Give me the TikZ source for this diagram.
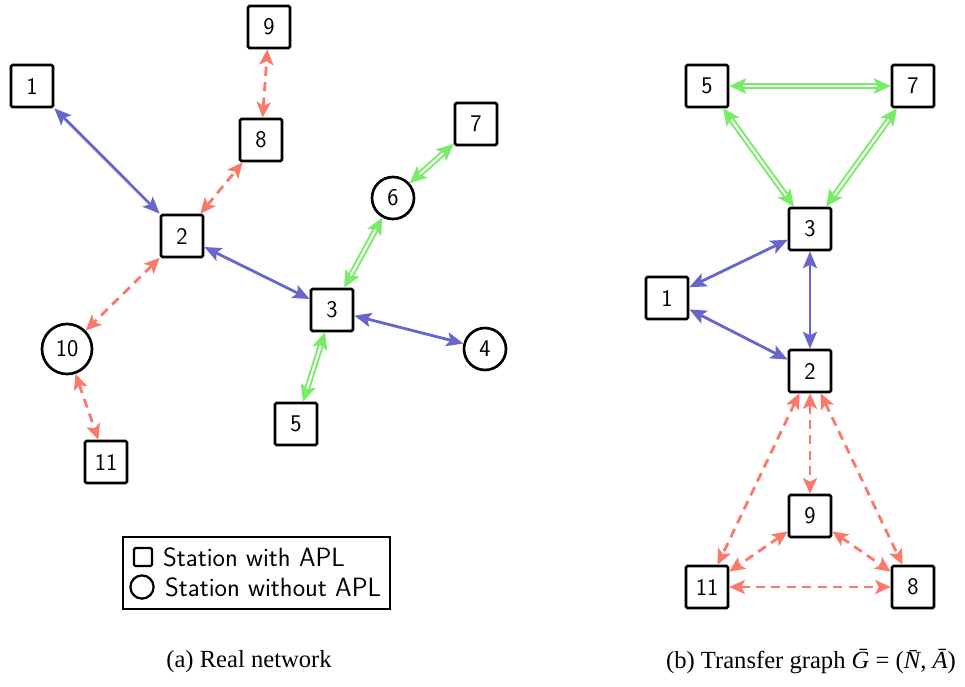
\documentclass[tikz,border=0pt]{standalone}
\usepackage{fontspec}
\setmainfont{Liberation Serif}
\usetikzlibrary{arrows.meta}
\definecolor{edgeblue}{RGB}{102,102,204}
\definecolor{edgegreen}{RGB}{119,236,102}
\definecolor{edgered}{RGB}{250,121,107}
\tikzset{
  apl/.style={draw,line width=1.9pt,rounded corners=1pt,minimum size=1.05cm,inner sep=0pt,font=\sffamily\fontsize{17}{20}\selectfont},
  noapl/.style={draw,circle,line width=1.9pt,minimum size=1.05cm,inner sep=0pt,font=\sffamily\fontsize{17}{20}\selectfont},
  blueline/.style={edgeblue,line width=2pt,{Stealth[length=12pt,width=10pt,inset=2.5pt]}-{Stealth[length=12pt,width=10pt,inset=2.5pt]}},
  greenline/.style={edgegreen,double=white,double distance=1.5pt,line width=1.4pt,{Stealth[length=12pt,width=11pt,inset=2.5pt]}-{Stealth[length=12pt,width=11pt,inset=2.5pt]}},
  redline/.style={edgered,line width=2pt,dash pattern=on 6.5pt off 4.5pt,{Stealth[length=11pt,width=10pt,inset=2.5pt]}-{Stealth[length=11pt,width=10pt,inset=2.5pt]}},
  legtext/.style={anchor=west,font=\sffamily\fontsize{18.8}{22}\selectfont,inner sep=0pt},
  caption/.style={font=\fontsize{17.5}{21}\selectfont}
}
\begin{document}
\begin{tikzpicture}
      \useasboundingbox (0,0) rectangle (24.125,-17.175);
      \node[apl] at (0.80,-2.15) (L1) {1};
      \node[apl] at (4.55,-5.90) (L2) {2};
      \node[apl] at (8.30,-7.75) (L3) {3};
      \node[noapl] at (12.125,-8.725) (L4) {4};
      \node[apl] at (7.40,-10.60) (L5) {5};
      \node[noapl] at (9.825,-4.95) (L6) {6};
      \node[apl] at (11.90,-3.10) (L7) {7};
      \node[apl] at (6.525,-3.50) (L8) {8};
      \node[apl] at (6.725,-0.675) (L9) {9};
      \node[noapl,minimum size=1.25cm] at (1.675,-8.725) (L10) {10};
      \node[apl] at (2.65,-11.55) (L11) {11};
      \draw[blueline] (L1) -- (L2);
      \draw[blueline] (L2) -- (L3);
      \draw[blueline] (L3) -- (L4);
      \draw[redline] (L2) -- (L8);
      \draw[redline] (L8) -- (L9);
      \draw[redline] (L2) -- (L10);
      \draw[redline] (L10) -- (L11);
      \draw[greenline] (L3) -- (L6);
      \draw[greenline] (L6) -- (L7);
      \draw[greenline] (L3) -- (L5);
      \node[draw,line width=1.3pt,minimum width=6.675cm,minimum height=1.8cm] at (6.4125,-14.325) (K) {};
      \node[apl,minimum size=0.45cm,line width=1.6pt] at (3.575,-13.925) (K1) {};
      \node[legtext] at (4.07,-13.925) (K2) {Station with APL};
      \node[noapl,minimum size=0.58cm,line width=1.6pt] at (3.55,-14.675) (K3) {};
      \node[legtext] at (4.12,-14.675) (K4) {Station without APL};
      \node[caption] at (6.225,-16.55) (CA) {(a) Real network};
      \node[caption] at (20.275,-16.55) (CB) {(b) Transfer graph \textit{\=G} = (\textit{\=N}, \textit{\=A})};
      \node[apl] at (16.675,-7.45) (R1) {1};
      \node[apl] at (20.25,-9.275) (R2) {2};
      \node[apl] at (20.25,-5.725) (R3) {3};
      \node[apl] at (17.675,-2.15) (R5) {5};
      \node[apl] at (22.825,-2.15) (R7) {7};
      \node[apl] at (22.825,-14.675) (R8) {8};
      \node[apl] at (20.25,-12.90) (R9) {9};
      \node[apl] at (17.675,-14.675) (R11) {11};
      \draw[greenline] (R5) -- (R7);
      \draw[greenline] (R5) -- (R3);
      \draw[greenline] (R7) -- (R3);
      \draw[blueline] (R3) -- (R1);
      \draw[blueline] (R1) -- (R2);
      \draw[blueline] (R3) -- (R2);
      \draw[redline] (R2) -- (R11);
      \draw[redline] (R2) -- (R9);
      \draw[redline] (R2) -- (R8);
      \draw[redline] (R9) -- (R11);
      \draw[redline] (R9) -- (R8);
      \draw[redline] (R11) -- (R8);
    \end{tikzpicture}
\end{document}
